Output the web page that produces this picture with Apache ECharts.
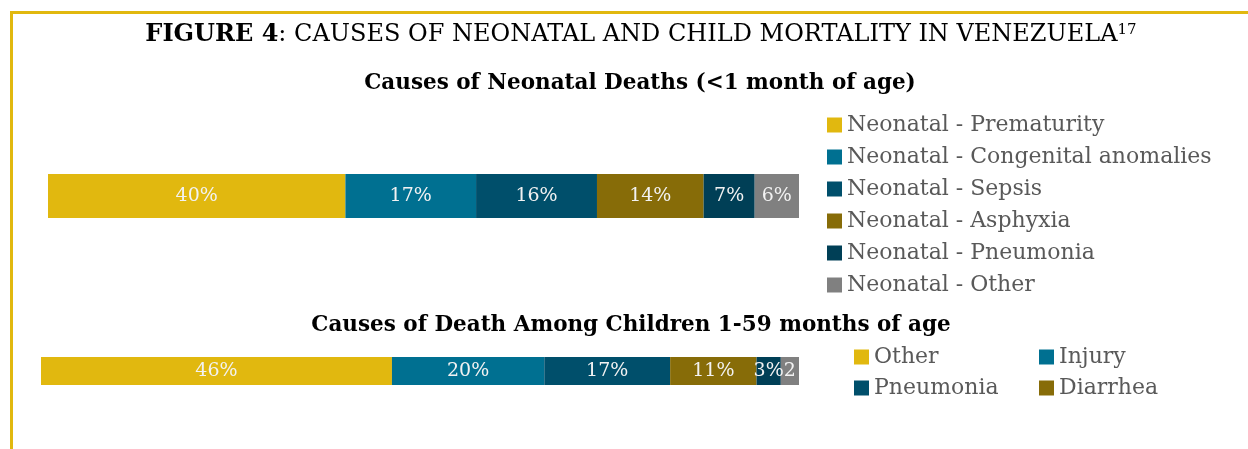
<!DOCTYPE html>
<html>
<head>
<meta charset="utf-8">
<script src="https://cdn.jsdelivr.net/npm/echarts@6/dist/echarts.min.js"></script>
<style>
html,body{margin:0;padding:0;background:#fff;}
#chart{width:1248px;height:449px;}
</style>
</head>
<body>
<div id="chart"></div>
<script>
// ---- Data ----
const neonatalNames = ['Neonatal - Prematurity','Neonatal - Congenital anomalies','Neonatal - Sepsis','Neonatal - Asphyxia','Neonatal - Pneumonia','Neonatal - Other'];
const neonatalValues = [39.6, 17.4, 16.1, 14.2, 6.8, 5.9];
const neonatalLabels = ['40%','17%','16%','14%','7%','6%'];

const childNames = ['Other','Injury','Pneumonia','Diarrhea','Child - 5','Child - 6'];
const childValues = [46.3, 20.1, 16.6, 11.4, 3.2, 2.4];
const childLabels = ['46%','20%','17%','11%','3%','2'];

const neonatalColors = ['#E1B80F','#007091','#004F6B','#876C08','#003F56','#808080'];
const childColors = ['#E1B80F','#007091','#004F6B','#876C08','#003F56','#808080'];

const FONT = 'DejaVu Serif';

function sum(a){return a.reduce((s,v)=>s+v,0);}

const series = [];
neonatalNames.forEach((n,i)=>{
  series.push({
    name:n, type:'bar', stack:'neo', xAxisIndex:0, yAxisIndex:0,
    barWidth:'100%', data:[neonatalValues[i]],
    itemStyle:{color:neonatalColors[i]},
    label:{show:true, position:'inside', color:'#F2F2F2', fontFamily:FONT, fontSize:19,
      formatter:()=>neonatalLabels[i]},
    emphasis:{disabled:true}
  });
});
childNames.forEach((n,i)=>{
  series.push({
    name:n, type:'bar', stack:'child', xAxisIndex:1, yAxisIndex:1,
    barWidth:'100%', data:[childValues[i]],
    itemStyle:{color:childColors[i]},
    label:{show:true, position:'inside', color:'#F2F2F2', fontFamily:FONT, fontSize:19,
      formatter:()=>childLabels[i]},
    emphasis:{disabled:true}
  });
});

const legendText = {color:'#595959', fontFamily:FONT, fontSize:22, lineHeight:26};

const option = {
  animation:false,
  title:[
    {left:636, top:18, textAlign:'center',
     text:'{b|FIGURE 4}{r|: CAUSES OF NEONATAL AND CHILD MORTALITY IN VENEZUELA}{s|17}',
     textStyle:{rich:{
       b:{fontFamily:FONT, fontWeight:'bold', fontSize:24, color:'#000'},
       r:{fontFamily:FONT, fontWeight:'normal', fontSize:24, color:'#000'},
       s:{fontFamily:FONT, fontWeight:'normal', fontSize:15, color:'#000', verticalAlign:'top', padding:[0,0,9,0]}
     }}},
    {left:635, top:67, textAlign:'center', text:'Causes of Neonatal Deaths (<1 month of age)',
     textStyle:{fontFamily:FONT, fontWeight:'bold', fontSize:21.5, color:'#000'}},
    {left:626, top:309, textAlign:'center', text:'Causes of Death Among Children 1-59 months of age',
     textStyle:{fontFamily:FONT, fontWeight:'bold', fontSize:21.5, color:'#000'}}
  ],
  legend:[
    {data:neonatalNames, orient:'vertical', left:827, top:112, padding:0, icon:'rect', itemWidth:15, itemHeight:15,
     itemGap:6, textStyle:legendText, selectedMode:false},
    {data:['Other','Pneumonia'], orient:'vertical', left:854, top:344, padding:0, icon:'rect', itemWidth:15, itemHeight:15,
     itemGap:5, textStyle:legendText, selectedMode:false},
    {data:['Injury','Diarrhea'], orient:'vertical', left:1039, top:344, padding:0, icon:'rect', itemWidth:15, itemHeight:15,
     itemGap:5, textStyle:legendText, selectedMode:false}
  ],
  grid:[
    {left:48, width:751, top:174, height:44, containLabel:false, outerBoundsMode:'none'},
    {left:41, width:758, top:357, height:28, containLabel:false, outerBoundsMode:'none'}
  ],
  xAxis:[
    {type:'value', gridIndex:0, min:0, max:sum(neonatalValues), show:false},
    {type:'value', gridIndex:1, min:0, max:sum(childValues), show:false}
  ],
  yAxis:[
    {type:'category', gridIndex:0, data:['Neonatal'], show:false},
    {type:'category', gridIndex:1, data:['Children'], show:false}
  ],
  graphic:[
    {type:'rect', shape:{x:10, y:11, width:1238, height:3}, style:{fill:'#E1B80F'}},
    {type:'rect', shape:{x:10, y:11, width:3, height:438}, style:{fill:'#E1B80F'}}
  ],
  series:series
};

const chart = echarts.init(document.getElementById('chart'));
chart.setOption(option);
</script>
</body>
</html>
